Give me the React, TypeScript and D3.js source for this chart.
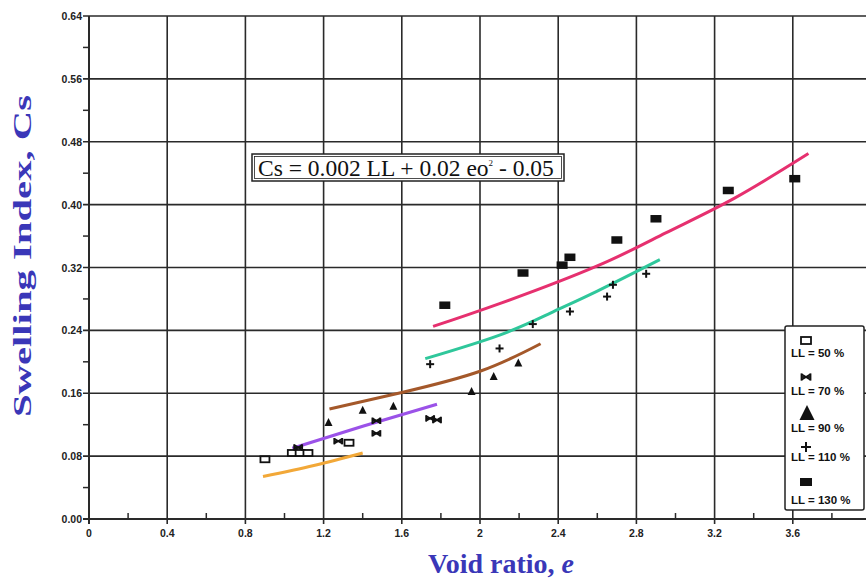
import React from "react";
import * as d3 from "d3";

const xTickValues = [0, 0.4, 0.8, 1.2, 1.6, 2.0, 2.4, 2.8, 3.2, 3.6];
const xTickLabels = ["0", "0.4", "0.8", "1.2", "1.6", "2", "2.4", "2.8", "3.2", "3.6"];
const yTickValues = [0, 0.08, 0.16, 0.24, 0.32, 0.4, 0.48, 0.56, 0.64];
const yTickLabels = ["0.00", "0.08", "0.16", "0.24", "0.32", "0.40", "0.48", "0.56", "0.64"];

// measured points [void ratio e, Cs]
const pointsLL50: [number, number][] = [[0.9, 0.076], [1.04, 0.084], [1.08, 0.084], [1.12, 0.084], [1.33, 0.097]];
const pointsLL70: [number, number][] = [[1.07, 0.091], [1.275, 0.099], [1.47, 0.125], [1.47, 0.109], [1.745, 0.128], [1.78, 0.126]];
const pointsLL90: [number, number][] = [[1.225, 0.1225], [1.4, 0.138], [1.557, 0.143], [1.957, 0.162], [2.07, 0.181], [2.196, 0.198]];
const pointsLL110: [number, number][] = [[1.745, 0.197], [2.1, 0.217], [2.27, 0.248], [2.46, 0.264], [2.65, 0.283], [2.68, 0.298], [2.85, 0.312]];
const pointsLL130: [number, number][] = [[1.82, 0.272], [2.22, 0.313], [2.42, 0.323], [2.46, 0.333], [2.7, 0.355], [2.9, 0.382], [3.27, 0.418], [3.61, 0.433]];

// fitted curves
const fitLL50: [number, number][] = [[0.89, 0.054], [1.15, 0.068], [1.4, 0.084]];
const fitLL70: [number, number][] = [[1.04, 0.09], [1.4, 0.118], [1.78, 0.146]];
const fitLL90: [number, number][] = [[1.23, 0.14], [1.6, 0.161], [2.0, 0.188], [2.31, 0.223]];
const fitLL110: [number, number][] = [[1.72, 0.204], [2.1, 0.234], [2.36, 0.262], [2.6, 0.29], [2.92, 0.33]];
const fitLL130: [number, number][] = [[1.76, 0.245], [2.1, 0.274], [2.6, 0.322], [2.95, 0.364], [3.3, 0.408], [3.68, 0.465]];

const legendLabels = ["LL = 50 %", "LL = 70 %", "LL = 90 %", "LL = 110 %", "LL = 130 %"];

const W = 866;
const H = 579;
const x = d3.scaleLinear().domain([0, 4]).range([89, 871]);
const y = d3.scaleLinear().domain([0, 0.64]).range([519, 16]);

const GRID = "#2a2a2a";
const line = d3.line<[number, number]>().x((d) => x(d[0])).y((d) => y(d[1])).curve(d3.curveNatural);

function OpenSq({ cx, cy }: { cx: number; cy: number }) {
  return <rect x={cx - 4.5} y={cy - 3} width={9} height={6} fill="white" stroke="#111" strokeWidth={1.8} />;
}
function FillSq({ cx, cy, w = 11, h = 7.5 }: { cx: number; cy: number; w?: number; h?: number }) {
  return <rect x={cx - w / 2} y={cy - h / 2} width={w} height={h} fill="#111" />;
}
function Tri({ cx, cy, s = 8 }: { cx: number; cy: number; s?: number }) {
  return <path d={`M${cx},${cy - s * 0.6} L${cx + s / 2},${cy + s * 0.4} L${cx - s / 2},${cy + s * 0.4} Z`} fill="#111" />;
}
function Plus({ cx, cy, s = 8 }: { cx: number; cy: number; s?: number }) {
  return (
    <g stroke="#111" strokeWidth={2}>
      <line x1={cx - s / 2} x2={cx + s / 2} y1={cy} y2={cy} />
      <line x1={cx} x2={cx} y1={cy - s / 2} y2={cy + s / 2} />
    </g>
  );
}
function Bow({ cx, cy, s = 8 }: { cx: number; cy: number; s?: number }) {
  const h = s / 2;
  return (
    <g stroke="#111" strokeWidth={1.8} fill="none">
      <line x1={cx - h} x2={cx + h} y1={cy} y2={cy} />
      <line x1={cx - h} x2={cx - h} y1={cy - h * 0.8} y2={cy + h * 0.8} />
      <line x1={cx + h} x2={cx + h} y1={cy - h * 0.8} y2={cy + h * 0.8} />
      <line x1={cx - h} x2={cx + h} y1={cy - h * 0.6} y2={cy + h * 0.6} />
      <line x1={cx - h} x2={cx + h} y1={cy + h * 0.6} y2={cy - h * 0.6} />
    </g>
  );
}

export default function App() {
  const minorX = d3.range(0.2, 4.0, 0.4);
  const minorY = d3.range(0.04, 0.64, 0.08);
  return (
    <svg width={W} height={H} style={{ position: "absolute", left: 0, top: 0, background: "white" }}>
      <rect x={0} y={0} width={W} height={H} fill="white" />
      {/* horizontal grid */}
      {yTickValues.map((v, i) => (
        <line key={"hy" + i} x1={83} x2={W} y1={y(v)} y2={y(v)} stroke={GRID} strokeWidth={v === 0 ? 2 : 1.6} />
      ))}
      {/* vertical grid */}
      {xTickValues.map((v, i) => (
        <line key={"vx" + i} x1={x(v)} x2={x(v)} y1={y(0.64)} y2={y(0) + 5} stroke={GRID} strokeWidth={v === 0 ? 2 : 1.6} />
      ))}
      {/* minor ticks */}
      {minorX.map((v, i) => (
        <line key={"mx" + i} x1={x(v)} x2={x(v)} y1={y(0) - 6} y2={y(0)} stroke={GRID} strokeWidth={1.5} />
      ))}
      {minorY.map((v, i) => (
        <line key={"my" + i} x1={x(0) - 6} x2={x(0)} y1={y(v)} y2={y(v)} stroke={GRID} strokeWidth={1.5} />
      ))}
      {/* tick labels */}
      {yTickValues.map((v, i) => (
        <text key={"ly" + i} x={82} y={y(v) + 4} textAnchor="end" fontFamily="Liberation Sans, Arial, sans-serif" fontWeight="bold" fontSize={10.5} fill="#222">
          {yTickLabels[i]}
        </text>
      ))}
      {xTickValues.map((v, i) => (
        <text key={"lx" + i} x={x(v)} y={537} textAnchor="middle" fontFamily="Liberation Sans, Arial, sans-serif" fontWeight="bold" fontSize={10.5} fill="#222">
          {xTickLabels[i]}
        </text>
      ))}

      {/* axis titles */}
      <text x={428} y={573} fontFamily="Liberation Serif, Times New Roman, serif" fontWeight="bold" fontSize={28} fill="#3a37b8">
        Void ratio, <tspan fontStyle="italic">e</tspan>
      </text>
      <text transform="translate(31,256) rotate(-90)" textAnchor="middle" fontFamily="Liberation Serif, Times New Roman, serif" fontWeight="bold" fontSize={26} fill="#3a37b8" textLength={322} lengthAdjust="spacingAndGlyphs">
        Swelling Index, Cs
      </text>

      {/* equation box */}
      <rect x={252} y={154} width={312} height={27} fill="white" stroke="#222" strokeWidth={1.5} />
      <rect x={254.5} y={156.5} width={307} height={22} fill="none" stroke="#222" strokeWidth={0.8} />
      <text x={258} y={176} fontFamily="Liberation Serif, Times New Roman, serif" fontSize={23.5} fill="#111">
        Cs = 0.002 LL + 0.02 eo<tspan dy={-10} fontSize={9}>2</tspan><tspan dy={10}> - 0.05</tspan>
      </text>

      {/* fitted curves */}
      <path d={line(fitLL50) || ""} fill="none" stroke="#f2a838" strokeWidth={3} />
      <path d={line(fitLL70) || ""} fill="none" stroke="#9b52e8" strokeWidth={3.2} />
      <path d={line(fitLL90) || ""} fill="none" stroke="#a4582a" strokeWidth={3} />
      <path d={line(fitLL110) || ""} fill="none" stroke="#2fc79b" strokeWidth={3} />
      <path d={line(fitLL130) || ""} fill="none" stroke="#e6306f" strokeWidth={3} />

      {/* points */}
      {pointsLL50.map((p, i) => <OpenSq key={"a" + i} cx={x(p[0])} cy={y(p[1])} />)}
      {pointsLL70.map((p, i) => <Bow key={"b" + i} cx={x(p[0])} cy={y(p[1])} />)}
      {pointsLL90.map((p, i) => <Tri key={"c" + i} cx={x(p[0])} cy={y(p[1])} />)}
      {pointsLL110.map((p, i) => <Plus key={"d" + i} cx={x(p[0])} cy={y(p[1])} />)}
      {pointsLL130.map((p, i) => <FillSq key={"e" + i} cx={x(p[0])} cy={y(p[1])} />)}

      {/* legend */}
      <g>
        <rect x={785} y={326} width={79} height={184} fill="white" stroke="#222" strokeWidth={1.5} rx={2} />
        <rect x={801} y={337} width={10} height={7} fill="white" stroke="#111" strokeWidth={1.8} />
        <Bow cx={806} cy={377} s={9} />
        <Tri cx={807} cy={414} s={15} />
        <Plus cx={806} cy={447} s={10} />
        <FillSq cx={806} cy={482} w={12} h={8} />
        {legendLabels.map((t, i) => (
          <text key={"lg" + i} x={791} y={[357, 395, 432, 461, 504][i]} fontFamily="Liberation Sans, Arial, sans-serif" fontWeight="bold" fontSize={11.5} fill="#111">
            {t}
          </text>
        ))}
      </g>
    </svg>
  );
}
